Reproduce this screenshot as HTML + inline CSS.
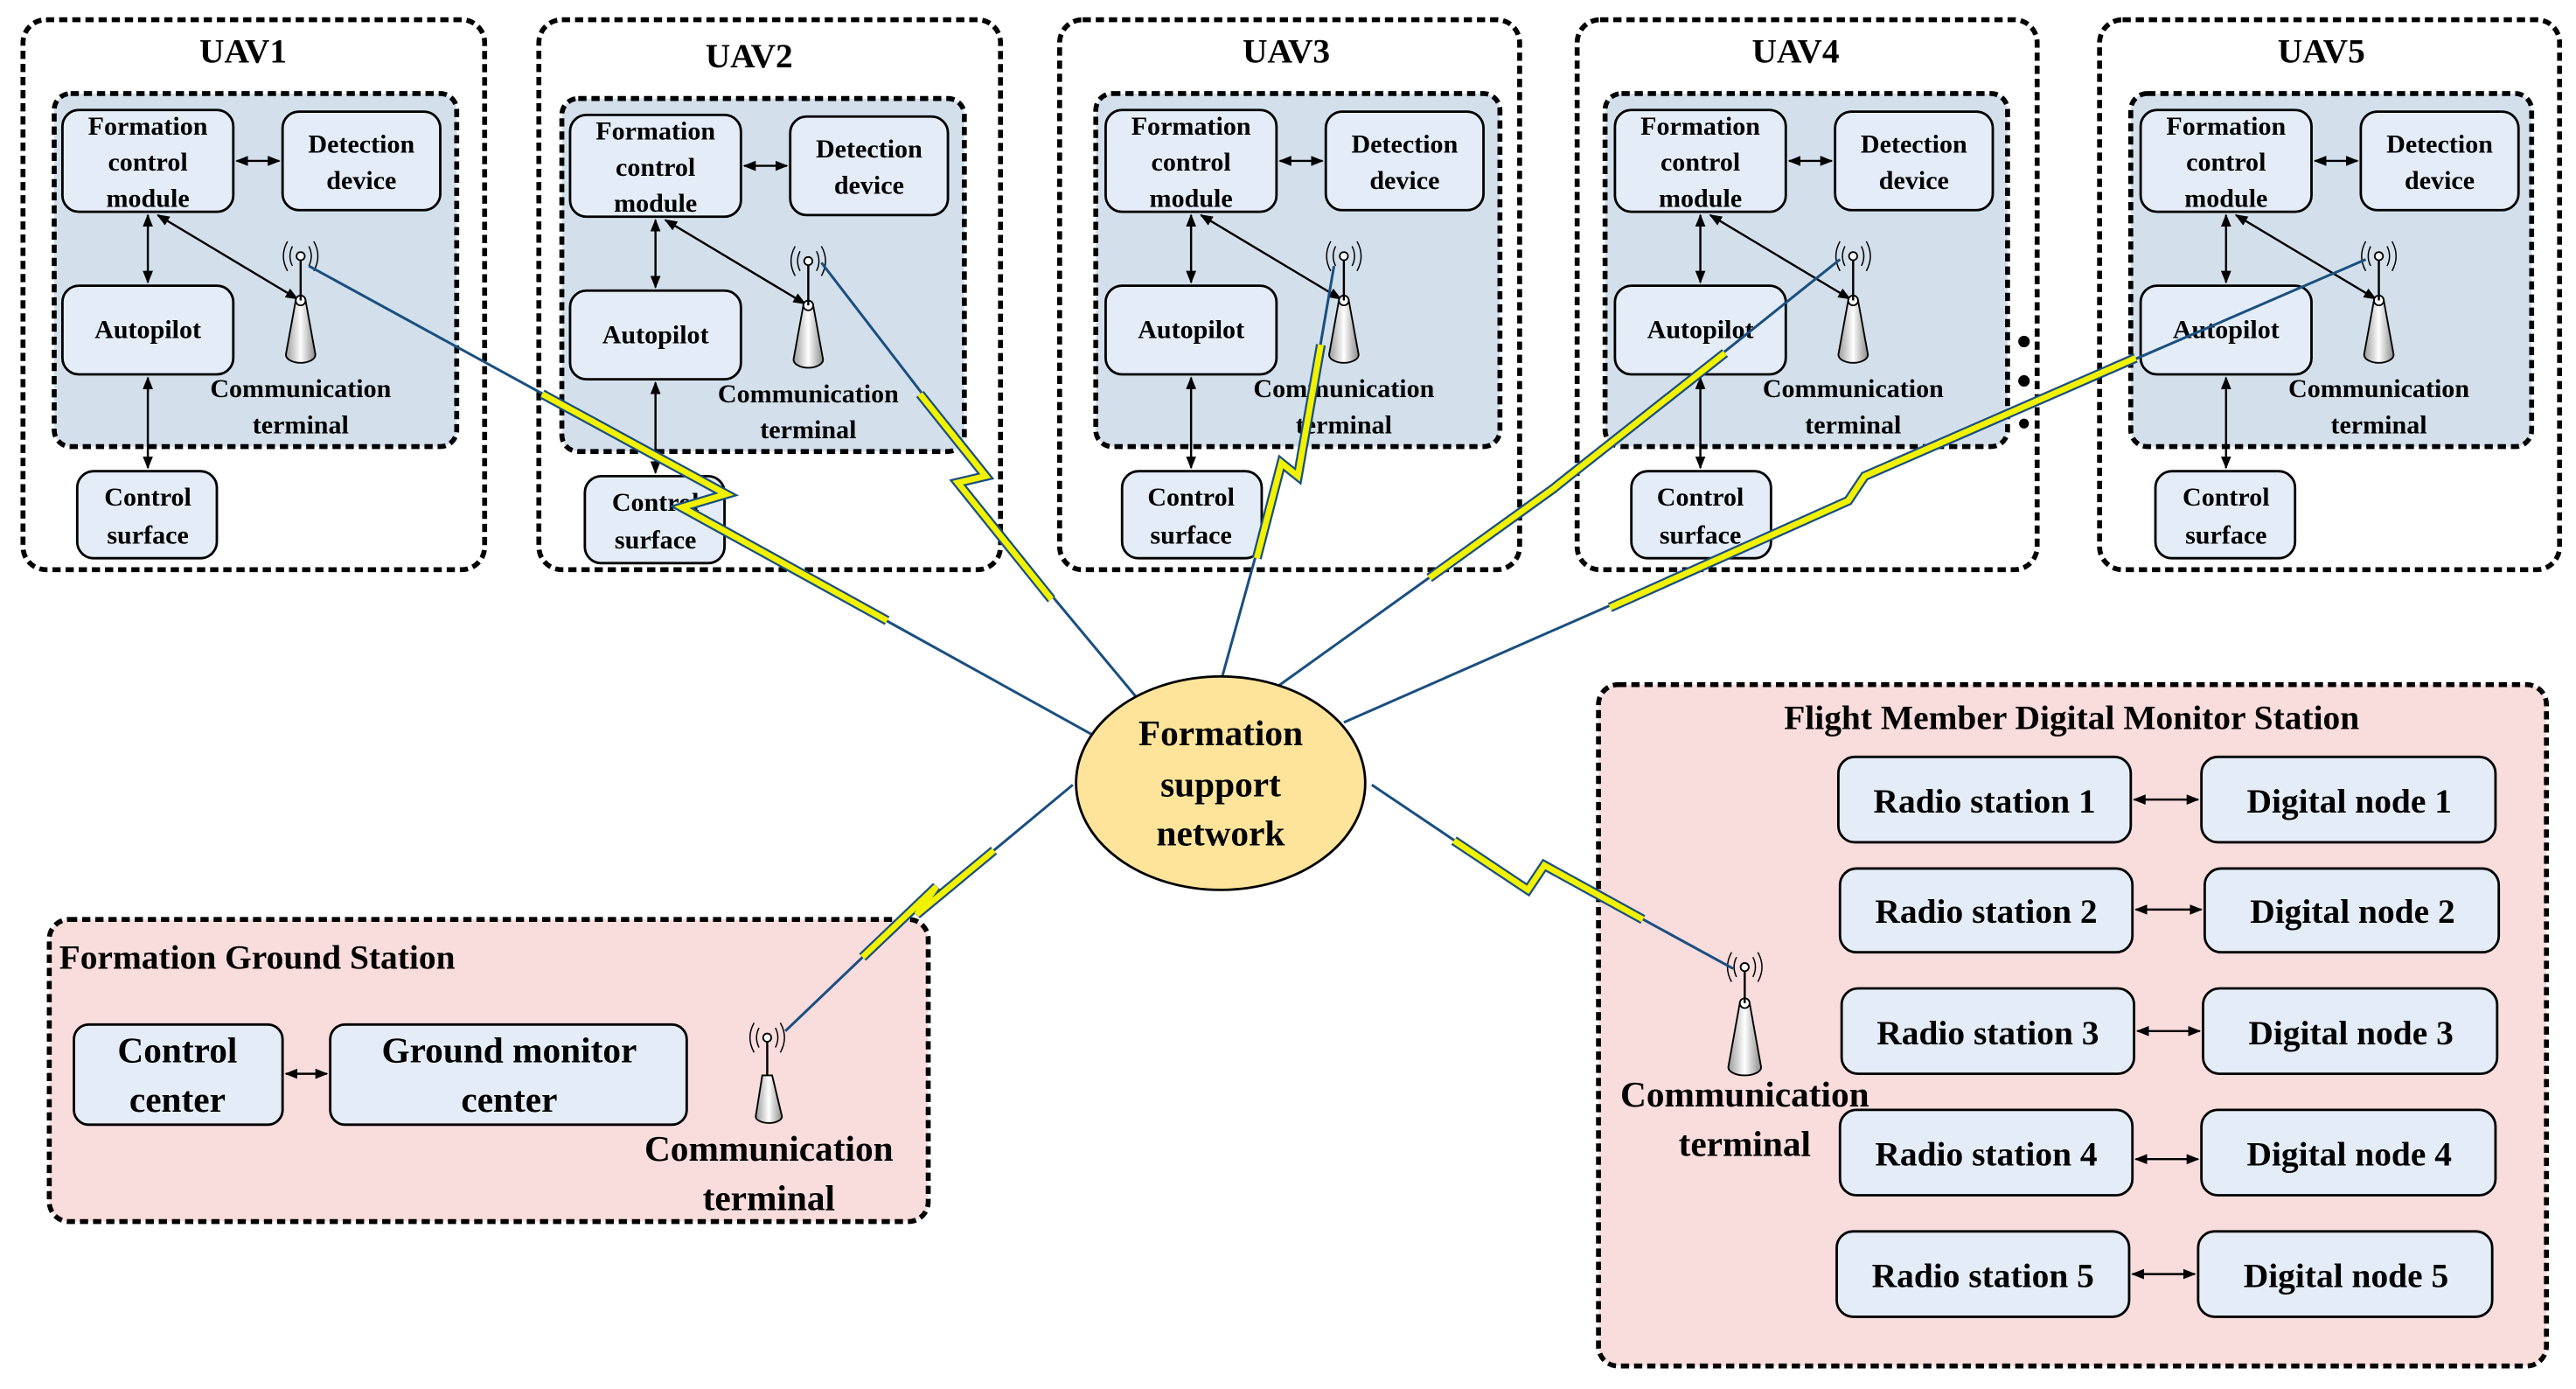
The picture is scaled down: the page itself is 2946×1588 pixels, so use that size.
<!DOCTYPE html>
<html><head><meta charset="utf-8"><style>
html,body{margin:0;padding:0;background:#fff;}
svg{display:block;}
text{font-family:"Liberation Serif",serif;font-weight:bold;fill:#000;text-anchor:middle;}
.box{fill:#e4edf7;stroke:#000;stroke-width:1.5;}
.outer{fill:#fff;stroke:#000;stroke-width:3;stroke-dasharray:5 3;}
.inner{fill:#d3e0eb;stroke:#000;stroke-width:3;stroke-dasharray:5 3;}
.ar{stroke:#000;stroke-width:1.3;fill:none;marker-start:url(#a);marker-end:url(#a);}
.lb{stroke:#1a4f80;stroke-width:1.6;fill:none;}
.lo{stroke:#1a4f80;stroke-width:6;fill:none;stroke-linejoin:miter;stroke-linecap:butt;}
.ly{stroke:#f2f200;stroke-width:3.6;fill:none;stroke-linejoin:miter;stroke-linecap:butt;}
.t{font-size:16px;}
</style></head><body>
<svg width="2946" height="1588" viewBox="0 0 1568 846" preserveAspectRatio="none" xmlns="http://www.w3.org/2000/svg">
<defs>
<marker id="a" viewBox="0 0 10 10" refX="9" refY="5" markerWidth="6" markerHeight="6" orient="auto-start-reverse"><path d="M0,1 L10,5 L0,9 z" fill="#000"/></marker>
<linearGradient id="g" x1="0" x2="1"><stop offset="0" stop-color="#9a9a9a"/><stop offset="0.5" stop-color="#fff"/><stop offset="1" stop-color="#8a8a8a"/></linearGradient>
</defs>

<g transform="translate(0,0)">
<rect class="outer" x="14" y="12" width="281" height="335" rx="14"/>
<text x="148" y="38" style="font-size:21px">UAV1</text>
<rect class="inner" x="33" y="57" width="245" height="215" rx="10"/>
<rect class="box" x="38" y="67" width="104" height="62" rx="10"/>
<text class="t" x="90" y="82">Formation</text><text class="t" x="90" y="104">control</text><text class="t" x="90" y="126">module</text>
<rect class="box" x="172" y="68" width="96" height="60" rx="10"/>
<text class="t" x="220" y="93">Detection</text><text class="t" x="220" y="115">device</text>
<rect class="box" x="38" y="174" width="104" height="54" rx="10"/>
<text class="t" x="90" y="206">Autopilot</text>
<rect class="box" x="47" y="287" width="85" height="53" rx="10"/>
<text class="t" x="90" y="308">Control</text><text class="t" x="90" y="331">surface</text>
<line class="ar" x1="144" y1="98" x2="170" y2="98"/>
<line class="ar" x1="90" y1="131" x2="90" y2="172"/>
<line class="ar" x1="90" y1="230" x2="90" y2="285"/>
<line class="ar" x1="96" y1="131" x2="181" y2="182"/>
<path d="M180,183 L186,183 L192,216 A9,5 0 0 1 174,216 Z" fill="url(#g)" stroke="#000" stroke-width="1"/>
<circle cx="183" cy="183" r="3" fill="#fff" stroke="#000"/>
<line x1="183" y1="158" x2="183" y2="183" stroke="#000" stroke-width="1.3"/>
<circle cx="183" cy="156" r="2.5" fill="#fff" stroke="#000"/>
<path d="M178,150 Q175,156 178,162 M175,147 Q170,156 175,165 M188,150 Q191,156 188,162 M191,147 Q196,156 191,165" stroke="#000" fill="none" stroke-width="0.8"/>
<text class="t" x="183" y="242">Communication</text><text class="t" x="183" y="264">terminal</text>
</g>

<g transform="translate(314,3)">
<rect class="outer" x="14" y="9" width="281" height="335" rx="14"/>
<text x="142" y="38" style="font-size:21px">UAV2</text>
<rect class="inner" x="28" y="57" width="245" height="215" rx="10"/>
<rect class="box" x="33" y="67" width="104" height="62" rx="10"/>
<text class="t" x="85" y="82">Formation</text><text class="t" x="85" y="104">control</text><text class="t" x="85" y="126">module</text>
<rect class="box" x="167" y="68" width="96" height="60" rx="10"/>
<text class="t" x="215" y="93">Detection</text><text class="t" x="215" y="115">device</text>
<rect class="box" x="33" y="174" width="104" height="54" rx="10"/>
<text class="t" x="85" y="206">Autopilot</text>
<rect class="box" x="42" y="287" width="85" height="53" rx="10"/>
<text class="t" x="85" y="308">Control</text><text class="t" x="85" y="331">surface</text>
<line class="ar" x1="139" y1="98" x2="165" y2="98"/>
<line class="ar" x1="85" y1="131" x2="85" y2="172"/>
<line class="ar" x1="85" y1="230" x2="85" y2="285"/>
<line class="ar" x1="91" y1="131" x2="176" y2="182"/>
<path d="M175,183 L181,183 L187,216 A9,5 0 0 1 169,216 Z" fill="url(#g)" stroke="#000" stroke-width="1"/>
<circle cx="178" cy="183" r="3" fill="#fff" stroke="#000"/>
<line x1="178" y1="158" x2="178" y2="183" stroke="#000" stroke-width="1.3"/>
<circle cx="178" cy="156" r="2.5" fill="#fff" stroke="#000"/>
<path d="M173,150 Q170,156 173,162 M170,147 Q165,156 170,165 M183,150 Q186,156 183,162 M186,147 Q191,156 186,165" stroke="#000" fill="none" stroke-width="0.8"/>
<text class="t" x="178" y="242">Communication</text><text class="t" x="178" y="264">terminal</text>
</g>

<g transform="translate(633,0)">
<rect class="outer" x="12" y="12" width="280" height="335" rx="14"/>
<text x="150" y="38" style="font-size:21px">UAV3</text>
<rect class="inner" x="34" y="57" width="246" height="215" rx="10"/>
<rect class="box" x="40" y="67" width="104" height="62" rx="10"/>
<text class="t" x="92" y="82">Formation</text><text class="t" x="92" y="104">control</text><text class="t" x="92" y="126">module</text>
<rect class="box" x="174" y="68" width="96" height="60" rx="10"/>
<text class="t" x="222" y="93">Detection</text><text class="t" x="222" y="115">device</text>
<rect class="box" x="40" y="174" width="104" height="54" rx="10"/>
<text class="t" x="92" y="206">Autopilot</text>
<rect class="box" x="50" y="287" width="85" height="53" rx="10"/>
<text class="t" x="92" y="308">Control</text><text class="t" x="92" y="331">surface</text>
<line class="ar" x1="146" y1="98" x2="172" y2="98"/>
<line class="ar" x1="92" y1="131" x2="92" y2="172"/>
<line class="ar" x1="92" y1="230" x2="92" y2="285"/>
<line class="ar" x1="98" y1="131" x2="183" y2="182"/>
<path d="M182,183 L188,183 L194,216 A9,5 0 0 1 176,216 Z" fill="url(#g)" stroke="#000" stroke-width="1"/>
<circle cx="185" cy="183" r="3" fill="#fff" stroke="#000"/>
<line x1="185" y1="158" x2="185" y2="183" stroke="#000" stroke-width="1.3"/>
<circle cx="185" cy="156" r="2.5" fill="#fff" stroke="#000"/>
<path d="M180,150 Q177,156 180,162 M177,147 Q172,156 177,165 M190,150 Q193,156 190,162 M193,147 Q198,156 193,165" stroke="#000" fill="none" stroke-width="0.8"/>
<text class="t" x="185" y="242">Communication</text><text class="t" x="185" y="264">terminal</text>
</g>

<g transform="translate(945,0)">
<rect class="outer" x="15" y="12" width="280" height="335" rx="14"/>
<text x="148" y="38" style="font-size:21px">UAV4</text>
<rect class="inner" x="32" y="57" width="245" height="215" rx="10"/>
<rect class="box" x="38" y="67" width="104" height="62" rx="10"/>
<text class="t" x="90" y="82">Formation</text><text class="t" x="90" y="104">control</text><text class="t" x="90" y="126">module</text>
<rect class="box" x="172" y="68" width="96" height="60" rx="10"/>
<text class="t" x="220" y="93">Detection</text><text class="t" x="220" y="115">device</text>
<rect class="box" x="38" y="174" width="104" height="54" rx="10"/>
<text class="t" x="90" y="206">Autopilot</text>
<rect class="box" x="48" y="287" width="85" height="53" rx="10"/>
<text class="t" x="90" y="308">Control</text><text class="t" x="90" y="331">surface</text>
<line class="ar" x1="144" y1="98" x2="170" y2="98"/>
<line class="ar" x1="90" y1="131" x2="90" y2="172"/>
<line class="ar" x1="90" y1="230" x2="90" y2="285"/>
<line class="ar" x1="96" y1="131" x2="181" y2="182"/>
<path d="M180,183 L186,183 L192,216 A9,5 0 0 1 174,216 Z" fill="url(#g)" stroke="#000" stroke-width="1"/>
<circle cx="183" cy="183" r="3" fill="#fff" stroke="#000"/>
<line x1="183" y1="158" x2="183" y2="183" stroke="#000" stroke-width="1.3"/>
<circle cx="183" cy="156" r="2.5" fill="#fff" stroke="#000"/>
<path d="M178,150 Q175,156 178,162 M175,147 Q170,156 175,165 M188,150 Q191,156 188,162 M191,147 Q196,156 191,165" stroke="#000" fill="none" stroke-width="0.8"/>
<text class="t" x="183" y="242">Communication</text><text class="t" x="183" y="264">terminal</text>
</g>

<g transform="translate(1265,0)">
<rect class="outer" x="13" y="12" width="280" height="335" rx="14"/>
<text x="148" y="38" style="font-size:21px">UAV5</text>
<rect class="inner" x="32" y="57" width="244" height="215" rx="10"/>
<rect class="box" x="38" y="67" width="104" height="62" rx="10"/>
<text class="t" x="90" y="82">Formation</text><text class="t" x="90" y="104">control</text><text class="t" x="90" y="126">module</text>
<rect class="box" x="172" y="68" width="96" height="60" rx="10"/>
<text class="t" x="220" y="93">Detection</text><text class="t" x="220" y="115">device</text>
<rect class="box" x="38" y="174" width="104" height="54" rx="10"/>
<text class="t" x="90" y="206">Autopilot</text>
<rect class="box" x="47" y="287" width="85" height="53" rx="10"/>
<text class="t" x="90" y="308">Control</text><text class="t" x="90" y="331">surface</text>
<line class="ar" x1="144" y1="98" x2="170" y2="98"/>
<line class="ar" x1="90" y1="131" x2="90" y2="172"/>
<line class="ar" x1="90" y1="230" x2="90" y2="285"/>
<line class="ar" x1="96" y1="131" x2="181" y2="182"/>
<path d="M180,183 L186,183 L192,216 A9,5 0 0 1 174,216 Z" fill="url(#g)" stroke="#000" stroke-width="1"/>
<circle cx="183" cy="183" r="3" fill="#fff" stroke="#000"/>
<line x1="183" y1="158" x2="183" y2="183" stroke="#000" stroke-width="1.3"/>
<circle cx="183" cy="156" r="2.5" fill="#fff" stroke="#000"/>
<path d="M178,150 Q175,156 178,162 M175,147 Q170,156 175,165 M188,150 Q191,156 188,162 M191,147 Q196,156 191,165" stroke="#000" fill="none" stroke-width="0.8"/>
<text class="t" x="183" y="242">Communication</text><text class="t" x="183" y="264">terminal</text>
</g>

<circle cx="1232" cy="208" r="3.5" fill="#000"/>
<circle cx="1232" cy="232" r="3.5" fill="#000"/>
<circle cx="1232" cy="258" r="3" fill="#000"/>

<rect x="30" y="560" width="535" height="184" rx="12" fill="#f9dcdc" stroke="#000" stroke-width="3" stroke-dasharray="5 3"/>
<text x="36" y="590" style="font-size:21px;text-anchor:start">Formation Ground Station</text>
<rect class="box" x="45" y="624" width="127" height="61" rx="9"/>
<text x="108" y="647" style="font-size:22px">Control</text><text x="108" y="677" style="font-size:22px">center</text>
<rect class="box" x="201" y="624" width="217" height="61" rx="9"/>
<text x="310" y="647" style="font-size:22px">Ground monitor</text><text x="310" y="677" style="font-size:22px">center</text>
<line class="ar" x1="174" y1="654" x2="199" y2="654"/>
<path d="M464,655 L470,655 L476,680 A8,4 0 0 1 460,680 Z" fill="url(#g)" stroke="#000" stroke-width="1"/>
<line x1="467" y1="632" x2="467" y2="655" stroke="#000" stroke-width="1.3"/>
<circle cx="467" cy="632" r="2.5" fill="#fff" stroke="#000"/>
<path d="M462,626 Q459,632 462,638 M459,623 Q454,632 459,641 M472,626 Q475,632 472,638 M475,623 Q480,632 475,641" stroke="#000" fill="none" stroke-width="0.8"/>
<text x="468" y="707" style="font-size:22px">Communication</text><text x="468" y="737" style="font-size:22px">terminal</text>

<rect x="973" y="417" width="577" height="415" rx="12" fill="#f9dcdc" stroke="#000" stroke-width="3" stroke-dasharray="5 3"/>
<text x="1261" y="444" style="font-size:21px">Flight Member Digital Monitor Station</text>
<rect class="box" x="1119" y="461" width="178" height="52" rx="10"/><text x="1208" y="495" style="font-size:21px">Radio station 1</text>
<rect class="box" x="1340" y="461" width="179" height="52" rx="10"/><text x="1430" y="495" style="font-size:21px">Digital node 1</text>
<line class="ar" x1="1299" y1="487" x2="1338" y2="487"/>
<rect class="box" x="1120" y="529" width="178" height="51" rx="10"/><text x="1209" y="562" style="font-size:21px">Radio station 2</text>
<rect class="box" x="1342" y="529" width="179" height="51" rx="10"/><text x="1432" y="562" style="font-size:21px">Digital node 2</text>
<line class="ar" x1="1300" y1="554" x2="1340" y2="554"/>
<rect class="box" x="1121" y="602" width="178" height="52" rx="10"/><text x="1210" y="636" style="font-size:21px">Radio station 3</text>
<rect class="box" x="1341" y="602" width="179" height="52" rx="10"/><text x="1431" y="636" style="font-size:21px">Digital node 3</text>
<line class="ar" x1="1301" y1="628" x2="1339" y2="628"/>
<rect class="box" x="1120" y="676" width="178" height="52" rx="10"/><text x="1209" y="710" style="font-size:21px">Radio station 4</text>
<rect class="box" x="1340" y="676" width="179" height="52" rx="10"/><text x="1430" y="710" style="font-size:21px">Digital node 4</text>
<line class="ar" x1="1300" y1="706" x2="1338" y2="706"/>
<rect class="box" x="1118" y="750" width="178" height="52" rx="10"/><text x="1207" y="784" style="font-size:21px">Radio station 5</text>
<rect class="box" x="1338" y="750" width="179" height="52" rx="10"/><text x="1428" y="784" style="font-size:21px">Digital node 5</text>
<line class="ar" x1="1298" y1="776" x2="1336" y2="776"/>
<path d="M1059,611 L1065,611 L1072,650 A10,5 0 0 1 1052,650 Z" fill="url(#g)" stroke="#000" stroke-width="1"/>
<circle cx="1062" cy="611" r="3" fill="#fff" stroke="#000"/>
<line x1="1062" y1="590" x2="1062" y2="611" stroke="#000" stroke-width="1.3"/>
<circle cx="1062" cy="589" r="2.5" fill="#fff" stroke="#000"/>
<path d="M1057,583 Q1054,589 1057,595 M1054,580 Q1049,589 1054,598 M1067,583 Q1070,589 1067,595 M1070,580 Q1075,589 1070,598" stroke="#000" fill="none" stroke-width="0.8"/>
<text x="1062" y="674" style="font-size:22px">Communication</text><text x="1062" y="704" style="font-size:22px">terminal</text>

<!-- Lightning links -->
<polyline class="lb" points="188,162 442,301 415,309 664,447"/>
<polyline class="lo" points="330,240 442,301 415,309 540,378"/>
<polyline class="ly" points="330,240 442,301 415,309 540,378"/>
<polyline class="lb" points="500,160 600,290 583,294 692,425"/>
<polyline class="lo" points="560,240 600,290 583,294 640,365"/>
<polyline class="ly" points="560,240 600,290 583,294 640,365"/>
<polyline class="lb" points="812,162 790,290 780,282 744,412"/>
<polyline class="lo" points="804,210 790,290 780,282 765,340"/>
<polyline class="ly" points="804,210 790,290 780,282 765,340"/>
<polyline class="lb" points="1120,158 955,290 945,298 775,420"/>
<polyline class="lo" points="1050,215 955,290 945,298 870,352"/>
<polyline class="ly" points="1050,215 955,290 945,298 870,352"/>
<polyline class="lb" points="1440,158 1135,290 1125,305 818,440"/>
<polyline class="lo" points="1300,218 1135,290 1125,305 980,370"/>
<polyline class="ly" points="1300,218 1135,290 1125,305 980,370"/>
<polyline class="lb" points="478,628 570,540 558,557 653,478"/>
<polyline class="lo" points="525,583 570,540 558,557 605,518"/>
<polyline class="ly" points="525,583 570,540 558,557 605,518"/>
<polyline class="lb" points="1055,590 940,527 930,542 835,478"/>
<polyline class="lo" points="1000,560 940,527 930,542 885,512"/>
<polyline class="ly" points="1000,560 940,527 930,542 885,512"/>

<ellipse cx="743" cy="477" rx="88" ry="65" fill="#fde49a" stroke="#000" stroke-width="1.5"/>
<text x="743" y="454" style="font-size:22px">Formation</text>
<text x="743" y="485" style="font-size:22px">support</text>
<text x="743" y="515" style="font-size:22px">network</text>
</svg>
</body></html>
